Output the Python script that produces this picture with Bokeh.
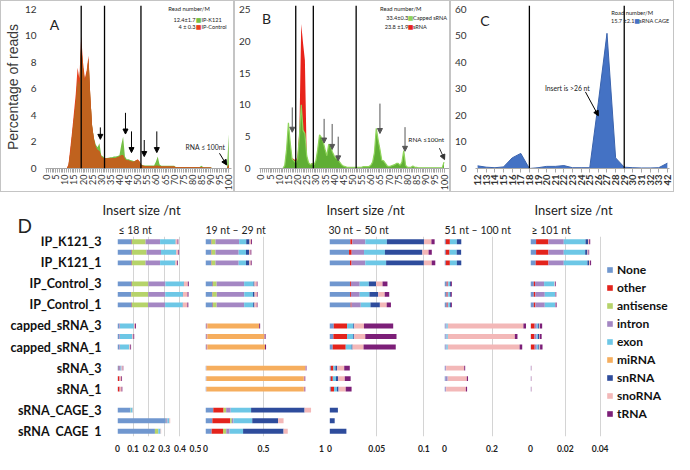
import math
import numpy as np
from bokeh.plotting import figure
from bokeh.models import (Range1d, ColumnDataSource, Span, Label,
                          Arrow, NormalHead, FixedTicker, Title, Legend, LegendItem)
from bokeh.layouts import row, column
from bokeh.embed import file_html
from bokeh.resources import INLINE
from bokeh.core.properties import value

FONT = "Lato"

# ---------------- Panel A : IP-K121 vs IP-Control (percentage of reads by length)
a_len = list(range(0, 101))
a_ctrl = [0, 0, 0, 0, 0, 0, 0, 0, 0, 0, 0, 0,
          0.3, 1.5, 2.8, 4.2, 5.6, 7.6, 6.8, 10.0, 8.0, 6.8,
          7.4, 8.5, 5.5, 3.2, 2.2, 1.6, 1.4, 1.3, 0.9, 0.8,
          0.75, 0.75, 0.78, 0.75, 0.78, 0.8, 0.8, 0.85, 0.9, 1.0,
          1.0, 0.7, 0.6, 0.6, 0.55, 0.5, 0.5, 0.6, 0.7, 0.55,
          0.25, 0.2, 0.18, 0.18, 0.18, 0.18, 0.18, 0.18, 0.2, 0.2,
          0.18, 0.15, 0.15, 0.15, 0.15, 0.15, 0.15, 0.15, 0.15, 0.1,
          0.1, 0.1, 0.1, 0.1, 0.1, 0.1, 0.1, 0.1, 0.1, 0.1,
          0.1, 0.1, 0.1, 0.1, 0.08, 0.08, 0.08, 0.08, 0.08, 0.02,
          0.02, 0.02, 0.02, 0.02, 0.02, 0.02, 0.02, 0.02, 0.3]
a_k121 = [0, 0, 0, 0, 0, 0, 0, 0, 0, 0, 0, 0,
          0.2, 1.2, 2.5, 3.8, 5.0, 6.8, 6.3, 9.4, 7.6, 6.6,
          7.2, 8.3, 5.4, 3.2, 2.3, 1.8, 1.6, 1.9, 1.0, 0.9,
          0.8, 0.8, 0.82, 0.85, 0.85, 0.9, 0.9, 0.95, 1.0, 1.8,
          2.4, 0.9, 0.7, 0.7, 0.65, 0.6, 0.55, 0.6, 0.65, 0.5,
          0.3, 0.25, 0.22, 0.22, 0.22, 0.22, 0.22, 0.22, 0.5, 0.9,
          0.3, 0.2, 0.2, 0.2, 0.2, 0.2, 0.2, 0.2, 0.2, 0.12,
          0.12, 0.12, 0.12, 0.12, 0.12, 0.12, 0.12, 0.12, 0.12, 0.12,
          0.12, 0.12, 0.12, 0.2, 0.1, 0.1, 0.1, 0.1, 0.1, 0.02,
          0.02, 0.02, 0.02, 0.02, 0.02, 0.02, 0.02, 0.02, 2.6]
a_bounds = [19, 31.8, 51.8]
a_arrows = [(29.5, 3.1, 2.2), (43.3, 4.2, 2.6), (46.6, 2.8, 1.2),
            (53.6, 2.15, 0.9), (60.5, 2.8, 1.2)]

# ---------------- Panel B : capped sRNA vs sRNA
b_len = list(range(0, 101))
b_capped = [0, 0, 0, 0, 0, 0, 0, 0, 0, 0, 0, 0, 0,
            0.5, 3.0, 7.2, 4.0, 1.5, 1.2, 0.9,
            1.5, 5.0, 10.0, 6.0, 5.5, 2.0, 0.9, 0.6, 0.8, 0.6,
            1.2, 3.0, 5.3, 4.9, 4.2, 3.0, 2.0, 3.8, 3.6, 2.6,
            2.0, 1.6, 1.5, 1.0, 0.6, 0.4, 0.3, 0.2, 0.2, 0.2,
            0.2, 0.2, 0.2, 0.2, 0.2, 0.2, 0.3, 0.3, 0.3, 0.3,
            0.5, 1.0, 2.5, 6.3, 4.5, 3.0, 1.3, 1.2, 0.8, 0.4,
            0.3, 0.4, 0.5, 0.6, 0.8, 0.8, 0.5, 1.0, 2.8, 0.5,
            0.2, 0.2, 0.2, 0.4, 0.2, 0.2, 0.1, 0.1, 0.1, 0.1,
            0.1, 0.1, 0.1, 0.1, 0.1, 0.1, 0.1, 0.1, 0.1, 0.1, 1.0]
b_srna = [0, 0, 0, 0, 0, 0, 0, 0, 0, 0, 0, 0, 0,
          0.1, 0.3, 0.5, 1.0, 1.6, 1.5, 1.2,
          2.0, 6.0, 22.7, 19.7, 17.0, 1.5, 0.8, 0.6, 0.9, 0.5,
          0.3, 0.3, 0.3, 0.3, 0.3, 0.3, 0.2, 0.2, 0.2, 0.2,
          0.2, 0.15, 0.15, 0.1, 0.1, 0.1, 0.1, 0.05, 0.05, 0.05,
          0.05, 0.05, 0.05, 0.05, 0.05, 0.05, 0.05, 0.05, 0.05, 0.05,
          0.1, 0.1, 0.1, 0.1, 0.1, 0.1, 0.1, 0.1, 0.1, 0.1,
          0.1, 0.1, 0.1, 0.1, 0.5, 0.7, 0.3, 0.1, 0.1, 0.1,
          0.1, 0.1, 0.1, 0.1, 0.1, 0.1, 0.05, 0.05, 0.05, 0.05,
          0.05, 0.05, 0.05, 0.05, 0.05, 0.05, 0.05, 0.05, 0.05, 0.05, 0.1]
b_bounds = [19, 28.6, 52]
b_arrows = [(17.1, 9.6, 5.7), (34.5, 7.8, 4.0), (38.9, 7.0, 3.0),
            (42.2, 5.0, 1.2), (65.0, 10.2, 5.5), (78.7, 6.5, 2.7)]

# ---------------- Panel C : sRNA CAGE
c_len = ["12", "13", "14", "15", "16", "17", "18", "19", "20", "21", "22", "23",
         "24", "25", "26", "27", "28", "29", "30", "31", "32", "33", "42"]
c_cage = [1.0, 0.5, 0.3, 0.6, 4.0, 5.7, 0.0, 0.3, 0.8, 0.8, 1.1, 0.3,
          0.3, 0.3, 25.0, 51.0, 4.0, 0.5, 0.3, 0.2, 0.2, 0.3, 2.0]
c_bounds = ["18", "29"]

# ---------------- Panel D : annotation composition by insert size
d_cats = ["None", "other", "antisense", "intron", "exon", "miRNA", "snRNA", "snoRNA", "tRNA"]
d_colors = ["#7097cf", "#e3231c", "#b6d36a", "#a487c3", "#6dc7e6",
            "#f6ae5e", "#2e4c9c", "#f3b8b8", "#7c1f78"]
d_rows = ["IP_K121_3", "IP_K121_2", "IP_K121_1",
          "IP_Control_3", "IP_Control_2", "IP_Control_1",
          "capped_sRNA_3", "capped_sRNA_2", "capped_sRNA_1",
          "sRNA_3", "sRNA_2", "sRNA_1",
          "sRNA_CAGE_3", "sRNA_CAGE_2", "sRNA_CAGE_1"]
d_le18 = [[0.091, 0.002, 0.087, 0.093, 0.099, 0, 0.001, 0.012, 0.005],
          [0.091, 0.002, 0.093, 0.093, 0.097, 0, 0.001, 0.013, 0.005],
          [0.091, 0.002, 0.087, 0.093, 0.097, 0, 0.001, 0.011, 0.005],
          [0.091, 0.002, 0.105, 0.109, 0.118, 0, 0.001, 0.025, 0.006],
          [0.087, 0.002, 0.108, 0.109, 0.113, 0, 0.001, 0.029, 0.006],
          [0.091, 0.002, 0.103, 0.109, 0.113, 0, 0.001, 0.029, 0.006],
          [0.010, 0.001, 0, 0.004, 0.090, 0, 0, 0.007, 0.006],
          [0.010, 0.001, 0, 0.004, 0.080, 0, 0, 0.007, 0.005],
          [0.010, 0.001, 0, 0.004, 0.061, 0, 0, 0.006, 0.005],
          [0.008, 0.002, 0, 0.010, 0.006, 0, 0, 0.008, 0.003],
          [0.002, 0.010, 0, 0.002, 0, 0, 0, 0.010, 0.005],
          [0.002, 0.011, 0, 0.002, 0, 0, 0, 0.011, 0.005],
          [0.083, 0, 0.002, 0, 0.012, 0, 0, 0.003, 0],
          [0.310, 0, 0.002, 0.008, 0.012, 0, 0, 0.006, 0],
          [0.240, 0, 0.020, 0.002, 0.014, 0, 0, 0.004, 0]]
d_19_29 = [[0.050, 0.003, 0.033, 0.204, 0.061, 0, 0.028, 0.013, 0.008],
           [0.050, 0.003, 0.033, 0.200, 0.063, 0, 0.026, 0.013, 0.007],
           [0.050, 0.003, 0.033, 0.200, 0.063, 0, 0.028, 0.013, 0.008],
           [0.062, 0.003, 0.031, 0.237, 0.081, 0, 0.008, 0.020, 0.006],
           [0.058, 0.003, 0.036, 0.237, 0.075, 0, 0.014, 0.020, 0.006],
           [0.062, 0.003, 0.031, 0.237, 0.078, 0, 0.011, 0.020, 0.006],
           [0.006, 0.004, 0, 0.006, 0, 0.447, 0, 0, 0.008],
           [0.006, 0.004, 0, 0.006, 0, 0.492, 0, 0.002, 0.008],
           [0.006, 0.004, 0, 0.006, 0, 0.497, 0, 0, 0.009],
           [0.004, 0, 0, 0.004, 0, 0.852, 0, 0.004, 0.006],
           [0.004, 0, 0, 0.004, 0, 0.840, 0, 0.006, 0.006],
           [0.004, 0, 0, 0.004, 0, 0.840, 0, 0.006, 0.006],
           [0.067, 0.089, 0.022, 0.039, 0.176, 0, 0.461, 0.056, 0],
           [0.059, 0.154, 0.014, 0.014, 0.162, 0, 0.223, 0.047, 0],
           [0.053, 0.098, 0.028, 0.028, 0.117, 0, 0.349, 0.036, 0]]
d_30_50 = [[0.0221, 0.0021, 0, 0.0138, 0.0228, 0, 0.0393, 0.0079, 0.0034],
           [0.0207, 0.0028, 0, 0.0131, 0.0221, 0, 0.0397, 0.0066, 0.0034],
           [0.0217, 0.0017, 0, 0.0145, 0.0221, 0, 0.0400, 0.0083, 0.0038],
           [0.0217, 0.0010, 0, 0.0093, 0.0097, 0, 0.0076, 0.0069, 0.0052],
           [0.0217, 0.0010, 0, 0.0093, 0.0103, 0, 0.0093, 0.0069, 0.0048],
           [0.0224, 0.0010, 0, 0.0097, 0.0103, 0, 0.0100, 0.0072, 0.0045],
           [0.0045, 0.0141, 0, 0, 0.0066, 0, 0.0010, 0.0103, 0.0310],
           [0.0041, 0.0145, 0, 0, 0.0066, 0, 0.0010, 0.0117, 0.0331],
           [0.0034, 0.0138, 0, 0, 0.0062, 0, 0.0010, 0.0117, 0.0341],
           [0.0014, 0.0028, 0, 0, 0.0021, 0, 0.0017, 0.0076, 0.0059],
           [0.0014, 0.0021, 0, 0, 0.0034, 0, 0.0021, 0.0072, 0.0062],
           [0.0014, 0.0034, 0, 0, 0.0031, 0, 0.0017, 0.0076, 0.0062],
           [0.0003, 0, 0, 0, 0, 0, 0.0086, 0, 0],
           [0.0003, 0, 0, 0, 0, 0, 0.0052, 0, 0],
           [0.0003, 0, 0, 0, 0, 0, 0.0176, 0, 0]]
d_51_100 = [[0.0053, 0.0173, 0, 0, 0.0293, 0, 0.0187, 0, 0],
            [0.0053, 0.0160, 0, 0, 0.0300, 0, 0.0187, 0, 0],
            [0.0053, 0.0173, 0, 0, 0.0293, 0, 0.0187, 0, 0],
            [0.0093, 0.0040, 0, 0.0030, 0.0067, 0, 0.0040, 0, 0.0040],
            [0.0090, 0.0040, 0, 0.0030, 0.0067, 0, 0.0040, 0, 0.0040],
            [0.0093, 0.0040, 0, 0.0030, 0.0067, 0, 0.0040, 0, 0.0040],
            [0.004, 0, 0, 0.004, 0.006, 0, 0, 0.318, 0.011],
            [0.004, 0, 0, 0.004, 0.006, 0, 0, 0.282, 0.011],
            [0.004, 0, 0, 0.004, 0.006, 0, 0, 0.302, 0.011],
            [0.003, 0, 0, 0.004, 0, 0, 0, 0.076, 0.004],
            [0.005, 0, 0, 0.008, 0.001, 0, 0, 0.080, 0.005],
            [0.003, 0, 0, 0.004, 0, 0, 0, 0.083, 0.005],
            [0, 0, 0, 0, 0, 0, 0, 0, 0],
            [0, 0, 0, 0, 0, 0, 0, 0, 0],
            [0, 0, 0, 0, 0, 0, 0, 0, 0]]
d_ge101 = [[0.0032, 0.0071, 0, 0.0088, 0.0125, 0, 0.0015, 0.0006, 0.0006],
           [0.0032, 0.0071, 0, 0.0088, 0.0123, 0, 0.0013, 0.0006, 0.0004],
           [0.0030, 0.0073, 0, 0.0088, 0.0136, 0, 0.0009, 0.0006, 0.0006],
           [0.0019, 0.0007, 0, 0.0052, 0.0060, 0, 0, 0.0004, 0.0004],
           [0.0019, 0.0009, 0, 0.0054, 0.0060, 0, 0, 0.0002, 0.0004],
           [0.0019, 0.0009, 0, 0.0054, 0.0060, 0, 0, 0.0002, 0.0006],
           [0.0002, 0.0022, 0, 0.0012, 0.0008, 0, 0.0006, 0.0004, 0.0013],
           [0.0002, 0.0021, 0, 0.0012, 0.0008, 0, 0.0006, 0.0004, 0.0011],
           [0.0002, 0.0022, 0, 0.0012, 0.0009, 0, 0.0006, 0.0004, 0.0014],
           [0.0001, 0, 0, 0.0003, 0, 0, 0, 0.0001, 0.0001],
           [0.0001, 0, 0, 0.0003, 0, 0, 0, 0.0001, 0.0001],
           [0.0001, 0, 0, 0.0003, 0, 0, 0, 0.0001, 0.0001],
           [0, 0, 0, 0, 0, 0, 0, 0, 0],
           [0, 0, 0, 0, 0, 0, 0, 0, 0],
           [0, 0, 0, 0, 0, 0, 0, 0, 0]]

BOX = {"border": "1px solid #c4c4c4", "box-sizing": "border-box"}
SMALL = "5.6px"


def top_fig(width, mbl, mbr, xr, yr, yticks):
    p = figure(width=width, height=192, x_range=xr, y_range=yr, output_backend="svg",
               toolbar_location=None, min_border_left=mbl, min_border_right=mbr,
               min_border_top=4, min_border_bottom=25)
    p.grid.visible = False
    p.outline_line_color = None
    p.yaxis.ticker = FixedTicker(ticks=yticks)
    p.yaxis.axis_line_color = None
    p.yaxis.major_tick_line_color = None
    p.yaxis.minor_tick_line_color = None
    p.yaxis.major_label_text_font = FONT
    p.yaxis.major_label_text_font_size = "10px"
    p.yaxis.major_label_text_color = "#333333"
    p.yaxis.major_label_standoff = 3
    p.xaxis.axis_line_color = "#a8a8a8"
    p.xaxis.major_tick_line_color = "#a8a8a8"
    p.xaxis.minor_tick_line_color = "#a8a8a8"
    p.xaxis.major_tick_out = 4
    p.xaxis.major_tick_in = 0
    p.xaxis.minor_tick_out = 4
    p.xaxis.minor_tick_in = 0
    p.xaxis.major_label_orientation = math.pi / 2
    p.xaxis.major_label_text_font = FONT
    p.xaxis.major_label_text_font_size = "9px"
    p.xaxis.major_label_text_color = "#333333"
    p.xaxis.major_label_standoff = 2
    p.styles = BOX
    return p


def lab(p, x, y, text, size=SMALL, align="left", color="#222222", font=FONT):
    p.add_layout(Label(x=x, y=y, text=text, text_font=font, text_font_size=size,
                       text_align=align, text_baseline="middle", text_color=color))


def arrow(p, x0, y0, x1, y1, color="black"):
    p.add_layout(Arrow(end=NormalHead(size=5, fill_color=color, line_color=color),
                       x_start=x0, y_start=y0, x_end=x1, y_end=y1,
                       line_color=color, line_width=1))


# ---- Panel A
GREEN_A, RED_A, BROWN_A = "#74bf45", "#e8401e", "#c0621e"
pa = top_fig(234, 30, 4, Range1d(-0.6, 101.5), Range1d(0, 12.3), [0, 2, 4, 6, 8, 10, 12])
pa.xaxis.ticker = FixedTicker(ticks=list(range(0, 101, 5)), minor_ticks=list(range(0, 101)))
pa.yaxis.axis_label = "Percentage of reads"
pa.yaxis.axis_label_text_font = "Liberation Sans"
pa.yaxis.axis_label_text_font_size = "14px"
pa.yaxis.axis_label_text_font_style = "normal"
pa.yaxis.axis_label_text_color = "#3a3a3a"
pa.yaxis.axis_label_standoff = 1
srcA = ColumnDataSource(dict(x=a_len, k=a_k121, c=a_ctrl, m=list(np.minimum(a_k121, a_ctrl))))
pa.varea(x="x", y1=0, y2="k", source=srcA, fill_color=GREEN_A)
pa.varea(x="x", y1=0, y2="c", source=srcA, fill_color=RED_A)
pa.varea(x="x", y1=0, y2="m", source=srcA, fill_color=BROWN_A)
for b in a_bounds:
    pa.add_layout(Span(location=b, dimension="height", line_color="black", line_width=1.3))
for x, y0, y1 in a_arrows:
    arrow(pa, x, y0, x, y1)
lab(pa, 1.8, 10.9, "A", size="14px")
lab(pa, 66.8, 12.1, "Read number/M", size="5.8px")
lab(pa, 81.8, 11.27, "12.4±1.7", align="right")
lab(pa, 83.5, 11.27, "■", size="6px", align="center", color=GREEN_A, font="DejaVu Sans")
lab(pa, 85.0, 11.27, "IP-K121")
lab(pa, 81.8, 10.68, "4 ± 0.3", align="right")
lab(pa, 83.5, 10.68, "■", size="6px", align="center", color=RED_A, font="DejaVu Sans")
lab(pa, 85.0, 10.68, "IP-Control")
lab(pa, 76.3, 1.66, "RNA ≤ 100nt", size="6.8px")
arrow(pa, 94.9, 1.15, 98.8, 0.27)

# ---- Panel B
GREEN_B, EDGE_B, RED_B = "#5fae34", "#8fd45b", "#e8231a"
pb = top_fig(216, 13, 2, Range1d(-0.8, 103), Range1d(0, 25.62), [0, 5, 10, 15, 20, 25])
pb.xaxis.ticker = FixedTicker(ticks=list(range(0, 101, 5)), minor_ticks=list(range(0, 101)))
srcB = ColumnDataSource(dict(x=b_len, g=b_capped, r=b_srna))
pb.varea(x="x", y1=0, y2="r", source=srcB, fill_color=RED_B)
pb.varea(x="x", y1=0, y2="g", source=srcB, fill_color=GREEN_B)
pb.line(x="x", y="g", source=srcB, line_color=EDGE_B, line_width=1.2)
for b in b_bounds:
    pb.add_layout(Span(location=b, dimension="height", line_color="black", line_width=1.3))
for x, y0, y1 in b_arrows:
    arrow(pb, x, y0, x, y1, color="#555555")
lab(pb, 0.5, 23.6, "B", size="14px")
lab(pb, 65, 25.2, "Read number/M", size="5.8px")
lab(pb, 80.5, 23.8, "33.4±0.3", align="right")
lab(pb, 81.8, 23.8, "■", size="6px", align="center", color=EDGE_B, font="DejaVu Sans")
lab(pb, 83.0, 23.8, "Capped sRNA")
lab(pb, 80.5, 22.3, "23.8 ±1.9", align="right")
lab(pb, 81.8, 22.3, "■", size="6px", align="center", color=RED_B, font="DejaVu Sans")
lab(pb, 83.0, 22.3, "sRNA")
lab(pb, 80.5, 4.5, "RNA ≤100nt", size="6.5px")
arrow(pb, 97.5, 3.2, 100.3, 1.4, color="#333333")

# ---- Panel C
BLUE_C = "#4472c4"
pc = top_fig(224, 17, 6, Range1d(-0.25, len(c_len) - 0.75), Range1d(0, 61.5),
             [0, 10, 20, 30, 40, 50, 60])
cidx = list(range(len(c_len)))
pc.xaxis.ticker = FixedTicker(ticks=cidx)
pc.xaxis.major_label_overrides = {i: s for i, s in zip(cidx, c_len)}
pc.xaxis.major_label_text_font_style = "bold"
pc.xaxis.major_label_text_font_size = "9.5px"
srcC = ColumnDataSource(dict(x=cidx, y=c_cage))
pc.varea(x="x", y1=0, y2="y", source=srcC, fill_color=BLUE_C)
pc.line(x="x", y="y", source=srcC, line_color="#3a63ad", line_width=1)
for b in c_bounds:
    pc.add_layout(Span(location=c_len.index(b), dimension="height",
                       line_color="black", line_width=1.3))
lab(pc, 0.3, 56, "C", size="14px")
lab(pc, 15.5, 59, "Road number/M", size="5.8px")
lab(pc, 18.2, 56, "15.7 ±2.1", align="right")
lab(pc, 18.5, 56, "■", size="6px", align="center", color=BLUE_C, font="DejaVu Sans")
lab(pc, 18.75, 56, "sRNA CAGE")
lab(pc, 7.8, 30.3, "Insert is >26 nt", size="6.8px")
arrow(pc, 12.5, 28.9, 14.0, 19.9)

# ---- Panel D
slots = []
for g in range(5):
    slots += d_rows[3 * g:3 * g + 3]
    if g < 4:
        slots.append(None)
NSLOT = len(slots)
d_ypos = [NSLOT - 0.5 - slots.index(r) for r in d_rows]
shown = [r for r in d_rows if not r.endswith("_2")]

DH = 262
DTOP, DBOT = 44, 16


def d_fig(data, xmax, ticks, width, mbl, mbr, sub, sub_off, head=None, head_off=0):
    p = figure(width=width, height=DH, x_range=Range1d(0, xmax), y_range=Range1d(0, NSLOT),
               output_backend="svg", toolbar_location=None, min_border_left=mbl,
               min_border_right=mbr, min_border_top=DTOP, min_border_bottom=DBOT)
    cols = {"y": d_ypos}
    for i, c in enumerate(d_cats):
        cols[c] = [r[i] for r in data]
    src = ColumnDataSource(cols)
    rs = p.hbar_stack(d_cats, y="y", height=0.46, color=d_colors, line_color=None, source=src)
    p.yaxis.visible = False
    p.ygrid.visible = False
    p.xgrid.grid_line_color = "#d4d4d4"
    p.xaxis.ticker = FixedTicker(ticks=ticks)
    p.xaxis.axis_line_color = None
    p.xaxis.major_tick_line_color = None
    p.xaxis.minor_tick_line_color = None
    p.xaxis.major_label_text_font = FONT
    p.xaxis.major_label_text_font_style = "bold"
    p.xaxis.major_label_text_font_size = "8.5px"
    p.xaxis.major_label_text_color = "#222222"
    p.xaxis.major_label_standoff = 2
    p.outline_line_color = None
    p.add_layout(Title(text=sub, align="left", offset=sub_off, text_font=FONT,
                       text_font_size="10.5px", text_font_style="normal",
                       text_color="#222222", standoff=2), "above")
    if head:
        p.add_layout(Title(text=head, align="left", offset=head_off, text_font=FONT,
                           text_font_size="13px", text_font_style="normal",
                           text_color="#222222", standoff=5), "above")
    return p, rs


# sample names column (same row geometry as the bar panels)
pl = figure(width=102, height=DH, x_range=Range1d(0, 102), y_range=Range1d(0, NSLOT),
            output_backend="svg", toolbar_location=None, min_border_left=0,
            min_border_right=0, min_border_top=DTOP, min_border_bottom=DBOT)
pl.axis.visible = False
pl.grid.visible = False
pl.outline_line_color = None
lsrc = ColumnDataSource(dict(y=[d_ypos[d_rows.index(r)] for r in shown], name=shown))
pl.text(x=101, y="y", text="name", source=lsrc, text_align="right", text_baseline="middle",
        text_font=value(FONT), text_font_style="bold", text_font_size="12.5px",
        text_color="#111111")
pl.add_layout(Title(text="D", align="left", offset=17, text_font=FONT,
                    text_font_size="19px", text_font_style="normal",
                    text_color="#222222", standoff=0), "above")
pl.add_layout(Title(text=" ", align="left", text_font=FONT, text_font_size="10px",
                    standoff=5), "above")

p1, _ = d_fig(d_le18, 0.5, [0, 0.1, 0.2, 0.3, 0.4, 0.5], 99, 15, 6,
              "≤ 18 nt", 1, "Insert size /nt", -15)
p2, _ = d_fig(d_19_29, 1.0, [0, 0.5, 1], 125, 4, 5, "19 nt – 29 nt", 0)
p3, _ = d_fig(d_30_50, 0.1155, [0, 0.05, 0.1], 114, 3, 2,
              "30 nt – 50 nt", -1, "Insert size /nt", -3)
p4, _ = d_fig(d_51_100, 0.345, [0, 0.2], 87, 4, 1, "51 nt – 100 nt", 0)
# last panel: frame wider than its 0-0.04 scale so the legend sits beside the bars
p5, rs5 = d_fig(d_ge101, 0.0402 * 144 / 70, [0, 0.02, 0.04], 147, 3, 0,
                "≥ 101 nt", 1, "Insert size /nt", 4)
legend = Legend(items=[LegendItem(label=value(c), renderers=[r]) for c, r in zip(d_cats, rs5)],
                location=(76, 15), label_text_font=FONT, label_text_font_style="bold",
                label_text_font_size="12px", label_text_color="#111111",
                glyph_width=7, glyph_height=7, label_height=12, spacing=3,
                label_standoff=4, padding=0, margin=0, border_line_color=None,
                background_fill_alpha=0)
p5.add_layout(legend)

layout = column(row(pa, pb, pc), row(pl, p1, p2, p3, p4, p5))
open("out.html", "w").write(file_html(layout, INLINE))
